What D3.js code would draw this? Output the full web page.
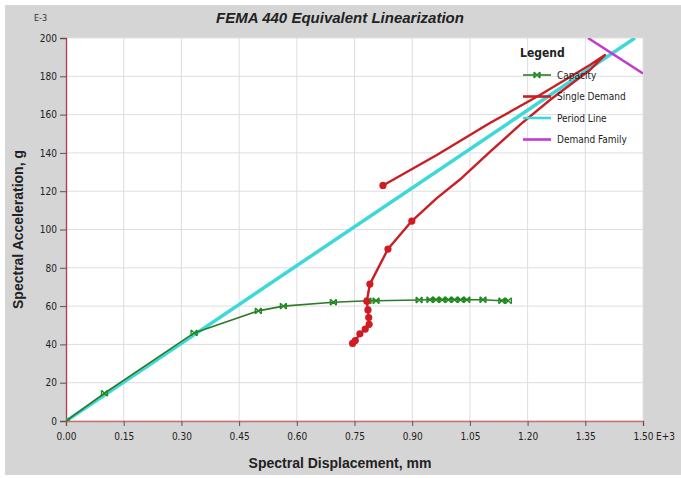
<!DOCTYPE html>
<html>
<head>
<meta charset="utf-8">
<script src="https://cdn.jsdelivr.net/npm/d3@7"></script>
<style>
  body { margin: 0; background: #fff; }
  text { font-family: "Liberation Sans Narrow", "Arial Narrow", "DejaVu Sans Condensed", "Liberation Sans", sans-serif; }
</style>
</head>
<body>
<div id="chart"></div>
<script>
// data
var xTicks = [0, 0.15, 0.30, 0.45, 0.60, 0.75, 0.90, 1.05, 1.20, 1.35, 1.50];
var yTicks = [0, 20, 40, 60, 80, 100, 120, 140, 160, 180, 200];

var capDisp = [0, 0.10, 0.333, 0.50, 0.565, 0.695, 0.785, 0.806, 0.918, 0.946, 0.962, 0.978, 0.994, 1.010, 1.026, 1.042, 1.084, 1.133, 1.150];
var capAcc  = [0, 14.5, 46, 57.5, 60, 62, 62.8, 62.8, 63.2, 63.3, 63.3, 63.3, 63.3, 63.3, 63.3, 63.3, 63.3, 62.8, 62.8];

var demDisp = [0.745, 0.752, 0.764, 0.778, 0.788, 0.787, 0.785, 0.782, 0.790, 0.837, 0.899, 0.964, 1.029, 1.102, 1.180, 1.258, 1.362, 1.401, 1.362, 1.232, 1.102, 0.964, 0.824];
var demAcc  = [40.5, 42, 45.5, 48, 50.5, 54, 58, 62.5, 71.5, 89.8, 104.4, 116.4, 126.9, 140.5, 154.6, 167.6, 183.3, 191.1, 185.9, 170.2, 155.6, 138.9, 123];
var demDots = [0, 1, 2, 3, 4, 5, 6, 7, 8, 9, 10, 22];

var periodDisp = [0, 1.479];
var periodAcc  = [0, 200];

var familyDisp = [1.357, 1.50];
var familyAcc  = [200, 181.5];

var legendNames = ["Capacity", "Single Demand", "Period Line", "Demand Family"];

var W = 681, H = 478;
var margin = { left: 66, right: 38, top: 38, bottom: 57 };

var svg = d3.select("#chart").append("svg")
    .attr("width", W)
    .attr("height", H);

// grey panel
svg.append("rect")
    .attr("x", 5).attr("y", 5)
    .attr("width", W - 5).attr("height", H - 8)
    .attr("fill", "#d5d5d5");

var x = d3.scaleLinear().domain([0, 1.5]).range([margin.left, W - margin.right]);
var y = d3.scaleLinear().domain([0, 200]).range([H - margin.bottom, margin.top]);

svg.append("clipPath").attr("id", "clip")
    .append("rect")
    .attr("x", x(0)).attr("y", y(200))
    .attr("width", x(1.5) - x(0)).attr("height", y(0) - y(200));

svg.append("rect")
    .attr("x", x(0)).attr("y", y(200))
    .attr("width", x(1.5) - x(0)).attr("height", y(0) - y(200))
    .attr("fill", "#fff")
    .attr("stroke", "#e2e2e2");

// grid
svg.append("g").selectAll("line").data(xTicks.slice(1, -1)).join("line")
    .attr("x1", d => x(d)).attr("x2", d => x(d))
    .attr("y1", y(0)).attr("y2", y(200))
    .attr("stroke", "#dedede");
svg.append("g").selectAll("line").data(yTicks.slice(1, -1)).join("line")
    .attr("x1", x(0)).attr("x2", x(1.5))
    .attr("y1", d => y(d)).attr("y2", d => y(d))
    .attr("stroke", "#dedede");

// axes
var xAxis = svg.append("g")
    .attr("transform", "translate(0," + y(0) + ")")
    .call(d3.axisBottom(x).tickValues(xTicks).tickSize(5).tickFormat(d3.format(".2f")));
xAxis.select(".domain").attr("stroke", "#c87070").attr("stroke-width", 1.5);
xAxis.selectAll(".tick line").attr("stroke", "#555");
xAxis.selectAll("text").attr("font-size", 10).attr("fill", "#222").attr("dy", "1.1em");

var yAxis = svg.append("g")
    .attr("transform", "translate(" + x(0) + ",0)")
    .call(d3.axisLeft(y).tickValues(yTicks).tickSize(6));
yAxis.select(".domain").attr("stroke", "#b0404e").attr("stroke-width", 1.4);
yAxis.selectAll(".tick line").attr("stroke", "#555");
yAxis.selectAll("text").attr("font-size", 10).attr("fill", "#222");

svg.append("text")
    .attr("x", x(1.5) + 13).attr("y", y(0) + 19)
    .attr("font-size", 10).attr("fill", "#222")
    .text("E+3");
svg.append("text")
    .attr("x", 34).attr("y", 21)
    .attr("font-size", 9).attr("fill", "#333")
    .text("E-3");

// titles
svg.append("text")
    .attr("x", 340).attr("y", 23)
    .attr("text-anchor", "middle")
    .attr("font-size", 15).attr("font-weight", "bold").attr("font-style", "italic")
    .attr("fill", "#222")
    .style("font-family", "'Liberation Sans', Arial, sans-serif")
    .text("FEMA 440 Equivalent Linearization");

svg.append("text")
    .attr("x", 340).attr("y", 468)
    .attr("text-anchor", "middle")
    .attr("font-size", 14).attr("font-weight", "bold")
    .attr("fill", "#222")
    .style("font-family", "'Liberation Sans', Arial, sans-serif")
    .text("Spectral Displacement, mm");

svg.append("text")
    .attr("transform", "translate(23," + ((y(0) + y(200)) / 2) + ") rotate(-90)")
    .attr("text-anchor", "middle")
    .attr("font-size", 14).attr("font-weight", "bold")
    .attr("fill", "#222")
    .style("font-family", "'Liberation Sans', Arial, sans-serif")
    .text("Spectral Acceleration, g");

// series
var plot = svg.append("g").attr("clip-path", "url(#clip)");
var line = d3.line().x(d => x(d[0])).y(d => y(d[1]));

var period = d3.zip(periodDisp, periodAcc);
plot.append("path").datum(period)
    .attr("d", line).attr("fill", "none")
    .attr("stroke", "#3fd8d8").attr("stroke-width", 3.5);

var cap = d3.zip(capDisp, capAcc);
plot.append("path").datum(cap)
    .attr("d", line).attr("fill", "none")
    .attr("stroke", "#2f7a2a").attr("stroke-width", 1.6);

var markerPath = "M-3,-3L3,3M-3,3L3,-3M-3,-3L-3,3M3,-3L3,3";
plot.append("g").selectAll("path").data(cap).join("path")
    .attr("transform", d => "translate(" + x(d[0]) + "," + y(d[1]) + ")")
    .attr("d", markerPath)
    .attr("fill", "none").attr("stroke", "#1f8a1f").attr("stroke-width", 1.3);

var dem = d3.zip(demDisp, demAcc);
plot.append("path").datum(dem)
    .attr("d", line).attr("fill", "none")
    .attr("stroke", "#c81e24").attr("stroke-width", 2.4)
    .attr("stroke-linejoin", "round");
plot.append("g").selectAll("circle").data(demDots.map(i => dem[i])).join("circle")
    .attr("cx", d => x(d[0])).attr("cy", d => y(d[1]))
    .attr("r", 3.6).attr("fill", "#d11a22");

var family = d3.zip(familyDisp, familyAcc);
plot.append("path").datum(family)
    .attr("d", line).attr("fill", "none")
    .attr("stroke", "#c23ad0").attr("stroke-width", 2.5);

// legend
var legendColors = ["#2f7a2a", "#c81e24", "#3fd8d8", "#c23ad0"];
var legendWidths = [1.6, 2.6, 2.6, 2.6];
var lg = svg.append("g").attr("transform", "translate(520,0)");
lg.append("text")
    .attr("x", 0).attr("y", 57)
    .attr("font-size", 12).attr("font-weight", "bold").attr("fill", "#222")
    .text("Legend");
legendNames.forEach(function (name, i) {
    var ly = 75 + 21.5 * i;
    lg.append("line")
        .attr("x1", 3).attr("x2", 31).attr("y1", ly).attr("y2", ly)
        .attr("stroke", legendColors[i]).attr("stroke-width", legendWidths[i]);
    if (i === 0) {
        lg.append("path")
            .attr("transform", "translate(17," + ly + ")")
            .attr("d", markerPath)
            .attr("fill", "none").attr("stroke", "#1f8a1f").attr("stroke-width", 1.3);
    }
    lg.append("text")
        .attr("x", 37).attr("y", ly + 3.5)
        .attr("font-size", 10).attr("fill", "#222")
        .text(name);
});
</script>
</body>
</html>
